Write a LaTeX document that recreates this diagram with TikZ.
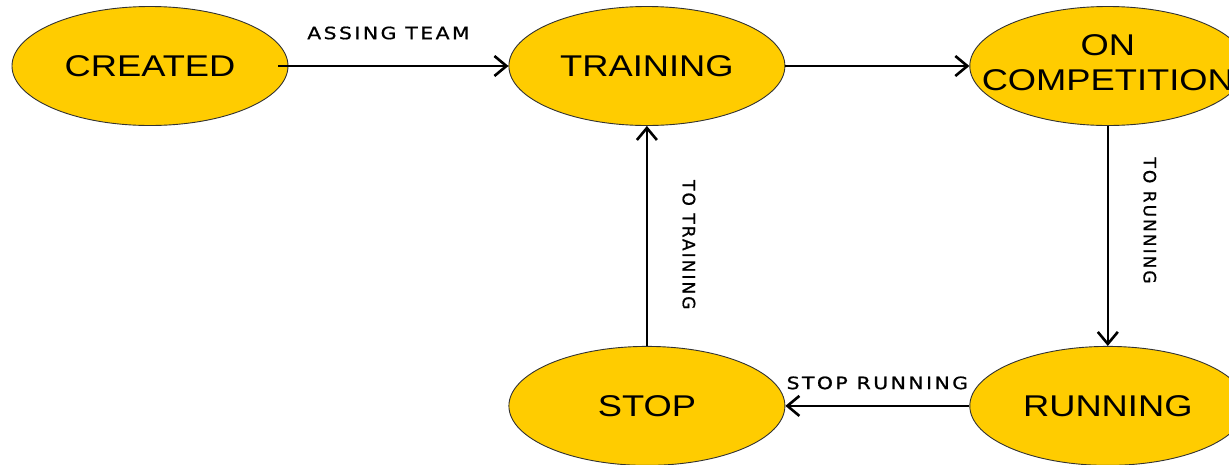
\documentclass[tikz,border=0pt]{standalone}
\usepackage{fontspec}
\setmainfont{Liberation Sans}
\newfontfamily\statefont[FakeStretch=1.21]{Liberation Sans}
\newfontfamily\edgefont[LetterSpace=12,FakeBold=0.8]{DejaVu Sans}
\usetikzlibrary{positioning,arrows.meta,shapes.geometric}
\definecolor{stateyellow}{RGB}{255,204,0}
\definecolor{stateline}{RGB}{50,50,50}
\tikzset{
  statebox/.style={ellipse, draw=stateline, line width=0.9pt, fill=stateyellow, minimum width=276pt, minimum height=119pt, inner sep=0pt, font=\statefont\fontsize{30}{35}\selectfont},
  edgelabel/.style={font=\edgefont\fontsize{17}{20}\selectfont, inner sep=0pt},
  arrow/.style={-{Straight Barb[length=12pt,width=20pt]}, line width=2.6pt}
}

\begin{document}
\begin{tikzpicture}[x=1pt, y=-1pt]
\useasboundingbox (0,0) rectangle (1229,464);
% states
\node[statebox] (created) at (150,66) {CREATED};
\node[statebox, right=220pt of created] (training) {TRAINING};
\node[statebox, right=184pt of training] (oncomp) {\makebox[0pt]{\begin{tabular}{@{}c@{}}ON\\COMPETITION\end{tabular}}};
\node[statebox, below=220pt of oncomp] (running) {RUNNING};
\node[statebox, below=220pt of training] (stop) {STOP};
% transitions
\draw[arrow, shorten <=-10pt] (created) -- node[edgelabel, midway, xshift=-10pt, yshift=33pt, xscale=1.2] {ASSING TEAM} (training);
\draw[arrow] (training) -- (oncomp);
\draw[arrow] (oncomp) -- node[edgelabel, pos=0.43, xshift=42pt, rotate=-90] {TO RUNNING} (running);
\draw[arrow] (running) -- node[edgelabel, midway, yshift=23pt, xscale=1.2] {STOP RUNNING} (stop);
\draw[arrow] (stop) -- node[edgelabel, pos=0.46, xshift=42pt, rotate=-90] {TO TRAINING} (training);
\end{tikzpicture}
\end{document}
